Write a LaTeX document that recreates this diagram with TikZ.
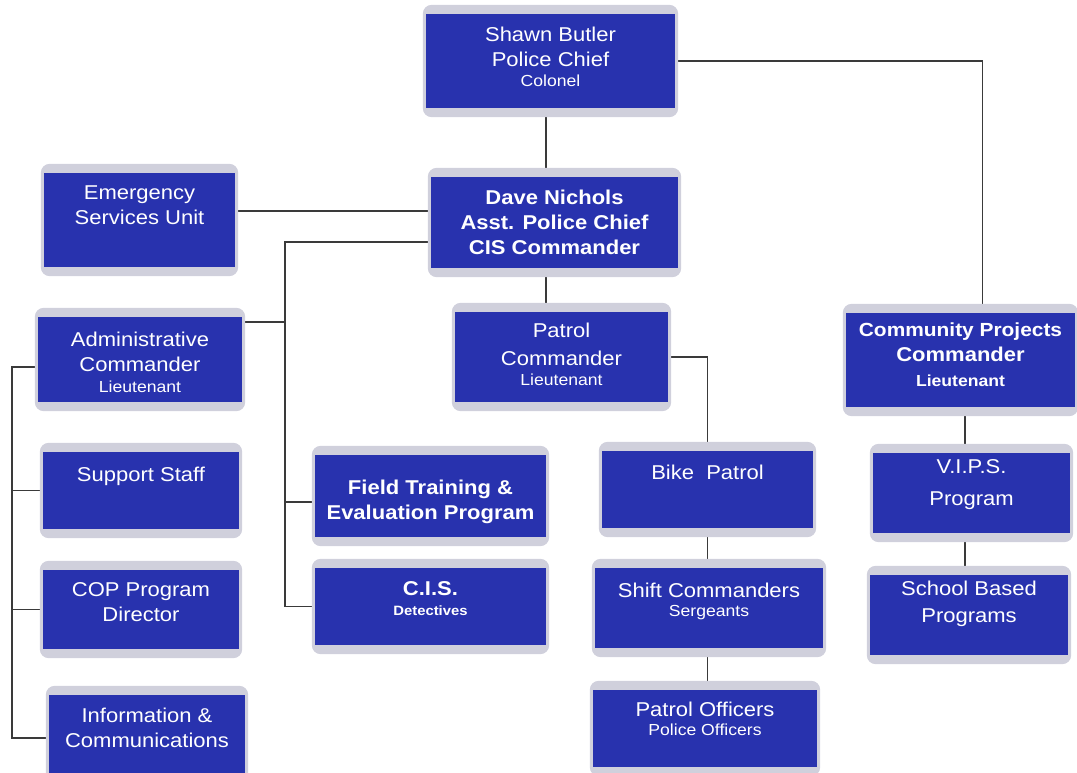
\documentclass[tikz,border=0pt]{standalone}
\usepackage{fontspec}
\setmainfont{Liberation Sans}[FakeStretch=1.1]
\usepackage{tikz}
\usetikzlibrary{positioning}
\definecolor{unitblue}{RGB}{40,50,174}
\definecolor{halogray}{RGB}{208,208,220}
\definecolor{wiregray}{RGB}{58,58,58}
\newcommand{\ranktext}[1]{{\fontsize{16}{19}\selectfont #1}}
\newcommand{\minortext}[1]{{\fontsize{13.5}{16}\selectfont #1}}
\pgfdeclarelayer{wires}
\pgfdeclarelayer{halo}
\pgfsetlayers{wires,halo,main}

\begin{document}
\begin{tikzpicture}[x=1pt, y=-1pt,
    unit/.style={fill=unitblue, inner sep=0pt},
    caption/.style={inner sep=0pt, align=center, text=white, font=\fontsize{20}{25}\selectfont},
    boldcaption/.style={caption, font=\fontsize{20}{25}\selectfont\bfseries},
    link/.style={draw=wiregray, line width=1.9pt}
]
\useasboundingbox (0,0) rectangle (1077,773);

% Chief and assistant chief
\node[unit, minimum width=249, minimum height=94] (chief) at (550.5,61) {};
\node[caption, below=13pt of chief.north] (chieftext) {Shawn Butler\\Police Chief\\[-5pt]\ranktext{Colonel}};
\node[unit, minimum width=247, minimum height=91] (nichols) at (554.5,222.5) {};
\node[boldcaption, below=13pt of nichols.north] (nicholstext) {Dave Nichols\\Asst. Police Chief\\CIS Commander};
\node[unit, minimum width=191, minimum height=94] (emergency) at (139.5,220) {};
\node[caption, below=13pt of emergency.north] (emergencytext) {Emergency\\Services Unit};

% Left column: administration
\node[unit, minimum width=204, minimum height=85] (admin) at (140,359.5) {};
\node[caption, below=15pt of admin.north] (admintext) {Administrative\\Commander\\[-4pt]\ranktext{Lieutenant}};
\node[unit, minimum width=196, minimum height=77] (support) at (141,490.5) {};
\node[caption, below=15pt of support.north] (supporttext) {Support Staff};
\node[unit, minimum width=196, minimum height=79] (cop) at (141,609.5) {};
\node[caption, below=13pt of cop.north] (coptext) {COP Program\\Director};
\node[unit, minimum width=196, minimum height=86] (info) at (147,738) {};
\node[caption, below=13pt of info.north] (infotext) {Information \&\\Communications};

% Middle column: training and detectives
\node[unit, minimum width=231, minimum height=82] (field) at (430.5,496) {};
\node[boldcaption, below=25pt of field.north] (fieldtext) {Field Training \&\\Evaluation Program};
\node[unit, minimum width=231, minimum height=77] (cis) at (430.5,606.5) {};
\node[boldcaption, below=14pt of cis.north] (cistext) {C.I.S.\\[-5pt]\minortext{Detectives}};

% Patrol chain
\node[unit, minimum width=213, minimum height=90] (patrol) at (561.5,357) {};
\node[caption, below=11pt of patrol.north] (patroltext) {Patrol\\[3pt]Commander\\[-5pt]\ranktext{Lieutenant}};
\node[unit, minimum width=211, minimum height=77] (bike) at (707.5,489.5) {};
\node[caption, below=14pt of bike.north] (biketext) {Bike\ \ Patrol};
\node[unit, minimum width=228, minimum height=80] (shift) at (709,608) {};
\node[caption, below=15pt of shift.north] (shifttext) {Shift Commanders\\[-6pt]\ranktext{Sergeants}};
\node[unit, minimum width=224, minimum height=77] (officers) at (705,728.5) {};
\node[caption, below=12pt of officers.north] (officerstext) {Patrol Officers\\[-6pt]\ranktext{Police Officers}};

% Right column: community projects
\node[unit, minimum width=229, minimum height=94] (community) at (960.5,360) {};
\node[boldcaption, below=10pt of community.north] (communitytext) {\fontsize{19}{25}\selectfont Community Projects\\Commander\\\ranktext{Lieutenant}};
\node[unit, minimum width=197, minimum height=80] (vips) at (971.5,493) {};
\node[caption, below=7pt of vips.north] (vipstext) {V.I.P.S.\\[7pt]Program};
\node[unit, minimum width=198, minimum height=80] (school) at (969,615) {};
\node[caption, below=6pt of school.north] (schooltext) {School Based\\[2pt]Programs};

% grey rims behind the boxes
\begin{pgfonlayer}{halo}
\foreach \u in {chief,nichols,emergency,admin,support,cop,info,field,cis,patrol,bike,shift,officers,community,vips,school}
  \fill[halogray, rounded corners=9pt] ([xshift=-3pt,yshift=-9pt]\u.south west) rectangle ([xshift=3pt,yshift=9pt]\u.north east);
\end{pgfonlayer}

% Connectors
\coordinate (trunk) at (546,0);
\coordinate (spine) at (285,242);
\coordinate (adminbus) at (12,367);
\coordinate (cptrunk) at (965,0);

\begin{pgfonlayer}{wires}
\draw[link] (chief.south -| trunk) -- (nichols.north -| trunk);
\draw[link] (nichols.south -| trunk) -- (patrol.north -| trunk);
\draw[link] (chief.east) -| ([xshift=22pt]community.north);
\draw[link] ([yshift=9pt]emergency.east) -- ([yshift=9pt]emergency.east -| nichols.west);
\draw[link] (nichols.west |- spine) -- (spine) |- (cis.west);
\draw[link] ([yshift=37.5pt]admin.east) -- ([yshift=37.5pt]admin.east -| spine);
\draw[link] ([yshift=-6pt]field.west) -- ([yshift=-6pt]field.west -| spine);
\draw[link] (patrol.east) -| (bike.north);
\draw[link] (bike.south) -- (bike.south |- shift.north);
\draw[link] (shift.south -| bike.south) -- (officers.north -| bike.south);
\draw[link] (community.south -| cptrunk) -- (vips.north -| cptrunk);
\draw[link] (vips.south -| cptrunk) -- (school.north -| cptrunk);
\draw[link] (admin.west |- adminbus) -- (adminbus) |- (info.west);
\draw[link] (adminbus |- support.west) -- (support.west);
\draw[link] (adminbus |- cop.west) -- (cop.west);
\end{pgfonlayer}

\end{tikzpicture}
\end{document}
